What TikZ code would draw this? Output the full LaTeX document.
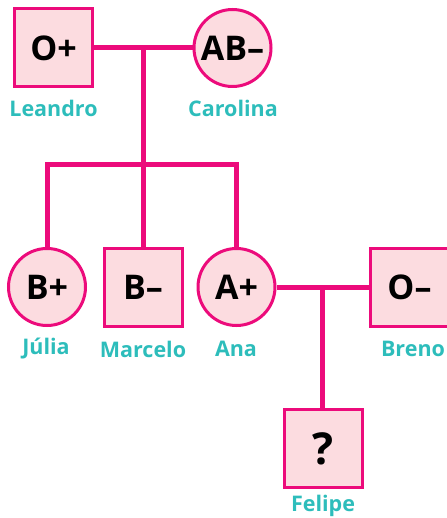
\documentclass[tikz,border=0pt]{standalone}
\usepackage{fontspec}
\setmainfont{Open Sans}
\definecolor{linepink}{HTML}{EC0B7B}
\definecolor{fillpink}{HTML}{FCDCE0}
\definecolor{nameteal}{HTML}{2DBDBB}
\begin{document}
\begin{tikzpicture}[x=1pt,y=-1pt,
  male/.style={draw=linepink,fill=fillpink,line width=3pt,minimum size=78pt,inner sep=0pt,font=\fontsize{34}{34}\selectfont\bfseries},
  female/.style={draw=linepink,fill=fillpink,line width=3pt,circle,minimum size=77pt,inner sep=0pt,font=\fontsize{34}{34}\selectfont\bfseries},
  pname/.style={text=nameteal,font=\fontsize{21.5}{21.5}\selectfont\bfseries,inner sep=0pt},
  link/.style={draw=linepink,line width=5pt}]
\useasboundingbox (0,0) rectangle (446,518);
\node[male] (leandro) at (53.5,48) {O+};
\node[female] (carolina) at (232.5,48) {AB–};
\node[female] (julia) at (47,287) {B+};
\node[male] (marcelo) at (143,287) {B–};
\node[female] (ana) at (236.5,287) {A+};
\node[male] (breno) at (409.5,287) {O–};
\node[male,font=\fontsize{44}{44}\selectfont\bfseries] (felipe) at (323,448.5) {?};
\coordinate (m1) at (143,48);
\coordinate (c1) at (143,165);
\coordinate (cj) at (47,165);
\coordinate (ca) at (236.5,165);
\coordinate (m2) at (322.5,287);
\draw[link] (leandro.east) -- (carolina.west);
\draw[link] (ana.east) -- (breno.west);
\draw[link] (m1) -- (c1);
\draw[link,line cap=rect] (cj) -- (ca);
\draw[link] (cj) -- (julia.north);
\draw[link] (c1) -- (marcelo.north);
\draw[link] (ca) -- (ana.north);
\draw[link] (m2) -- (felipe.north -| m2);
\node[pname] (nl) at (53.5,108) {Leandro};
\node[pname] (nc) at (233,108) {Carolina};
\node[pname] (nj) at (46,349) {Júlia};
\node[pname] (nm) at (143,349) {Marcelo};
\node[pname] (na) at (236,349) {Ana};
\node[pname] (nb) at (413,349) {Breno};
\node[pname] (nf) at (323,506) {Felipe};
\end{tikzpicture}
\end{document}
